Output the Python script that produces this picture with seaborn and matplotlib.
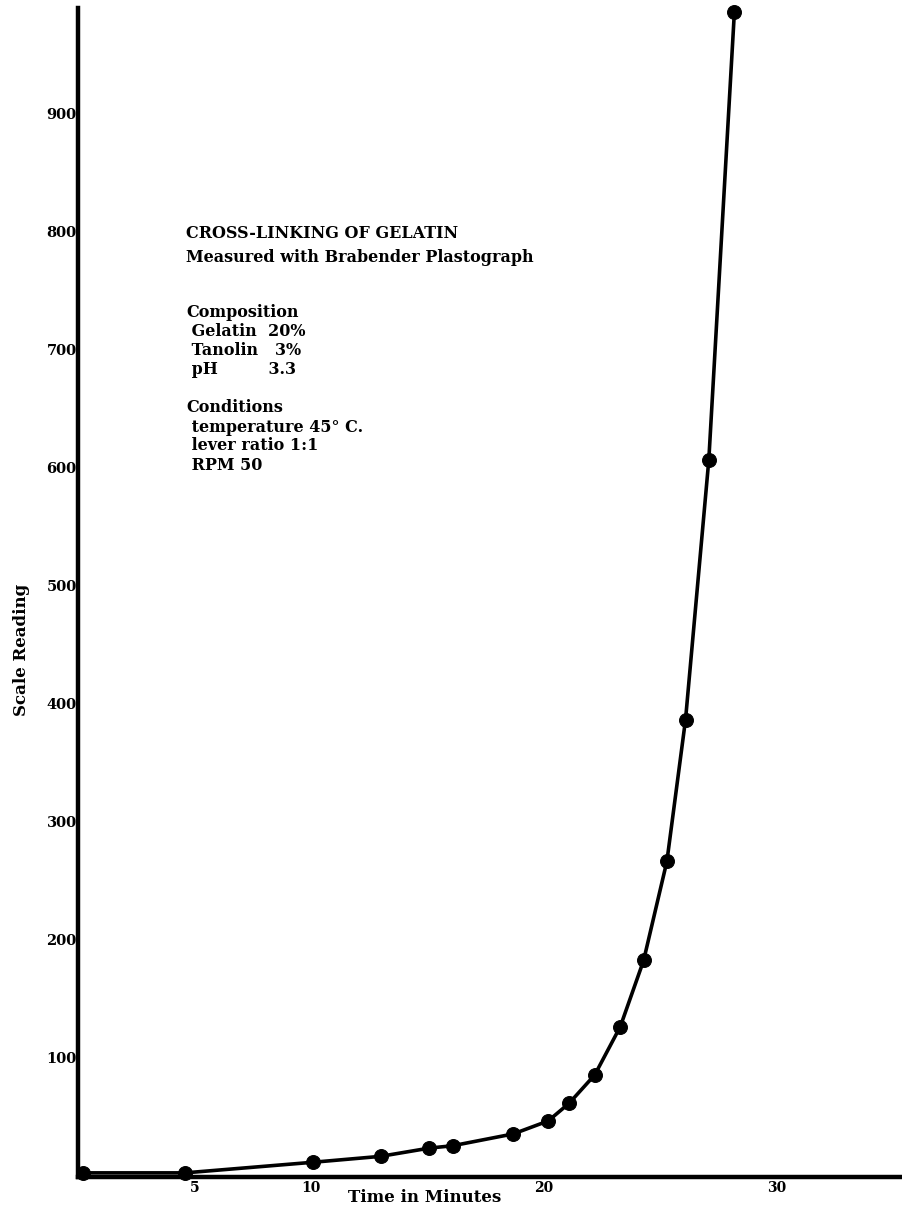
import numpy as np
import pandas as pd
import seaborn as sns
import matplotlib.pyplot as plt

# Readings taken off the plastograph chart
time_min = [0.2, 4.6, 10.1, 13.0, 15.1, 16.1, 18.7, 20.2, 21.1, 22.2, 23.3, 24.3, 25.3, 26.1, 27.1, 28.2]
scale_reading = [2, 2, 11, 16, 23, 25, 35, 46, 61, 85, 126, 182, 266, 386, 606, 986]

x_ticks = [5, 10, 20, 30]
y_ticks = [100, 200, 300, 400, 500, 600, 700, 800, 900]

title_lines = ["CROSS-LINKING OF GELATIN", "Measured with Brabender Plastograph"]
composition = ["Composition", " Gelatin  20%", " Tanolin   3%", " pH         3.3"]
conditions = ["Conditions", " temperature 45\u00b0 C.", " lever ratio 1:1", " RPM 50"]

data = pd.DataFrame({"time": time_min, "reading": scale_reading})

sns.set_style("white")
plt.rcParams["font.family"] = ["DejaVu Serif"]
plt.rcParams["text.color"] = "black"
plt.rcParams["xtick.color"] = "black"
plt.rcParams["ytick.color"] = "black"

fig = plt.figure(figsize=(9.02, 12.07), dpi=100)
ax = fig.add_axes([78 / 902, 30 / 1207, 824 / 902, 1169 / 1207])

sns.lineplot(data=data, x="time", y="reading", color="black", linewidth=2.6,
             marker="o", markersize=10, markeredgecolor="black",
             markerfacecolor="black", ax=ax, clip_on=False)

ax.set_xlim(0, 35.4)
ax.set_ylim(-1.5, 989)
ax.set_xticks(x_ticks)
ax.set_yticks(y_ticks)
ax.set_xticklabels([str(t) for t in x_ticks], fontsize=10, fontweight="bold", color="black")
ax.set_yticklabels([str(t) for t in y_ticks], fontsize=10.5, fontweight="bold", color="black")
ax.tick_params(axis="both", length=0)
ax.tick_params(axis="y", pad=1)
ax.tick_params(axis="x", pad=3)
ax.set_xlabel("")
ax.set_ylabel("")

for side in ["top", "right"]:
    ax.spines[side].set_visible(False)
for side in ["left", "bottom"]:
    ax.spines[side].set_color("black")
    ax.spines[side].set_linewidth(3.2)

ax.text(0.421, -0.0175, "Time in Minutes", transform=ax.transAxes, ha="center",
        va="center", fontsize=12, fontweight="bold", color="black")
fig.text(22 / 902, 1 - 650 / 1207, "Scale Reading", rotation=90, ha="center",
         va="center", fontsize=12, fontweight="bold", color="black")

# annotation block in figure pixel positions
def put(lines, top_px, step):
    for i, s in enumerate(lines):
        fig.text(186 / 902, 1 - (top_px + i * step) / 1207, s, ha="left",
                 va="center", fontsize=11.5, fontweight="bold", color="black")

put([title_lines[0]], 233, 0)
put([title_lines[1]], 258, 0)
put(composition, 312, 19.3)
put(conditions, 408, 19.0)

fig.savefig("out.png", dpi=100)
